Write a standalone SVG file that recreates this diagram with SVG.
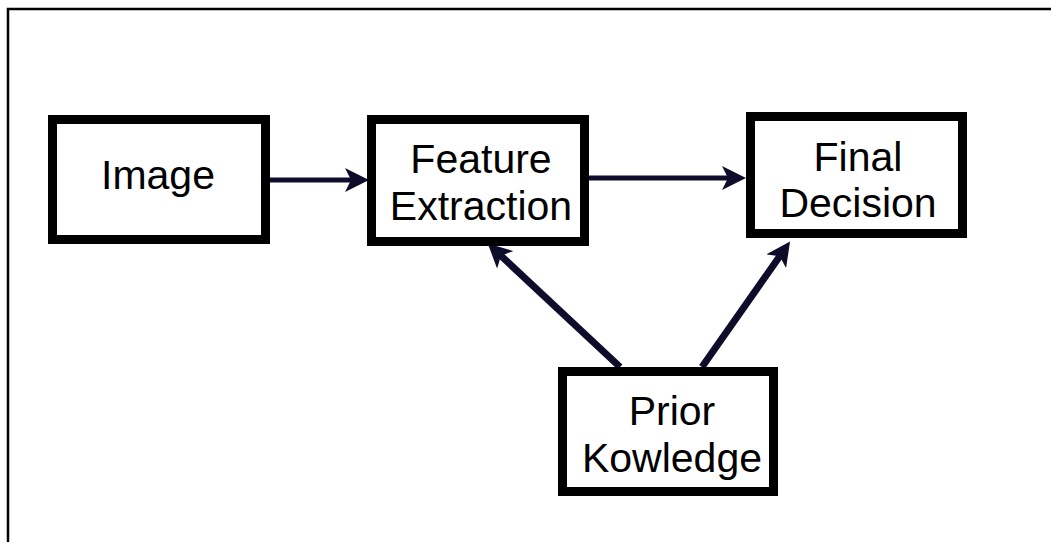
<svg xmlns="http://www.w3.org/2000/svg" width="1051" height="542" viewBox="0 0 1051 542">
<style>
.box{fill:#fff;stroke:#000;stroke-width:9}
.lbl{font-family:"Liberation Sans",Arial,sans-serif;font-size:41px;fill:#000;text-anchor:middle}
.con{stroke:#0d0d2b;fill:none}
</style>
<defs>
<marker id="ah" markerUnits="userSpaceOnUse" viewBox="0 0 24 24" markerWidth="24" markerHeight="24" refX="10" refY="12" orient="auto">
<path d="M0,0 L24,12 L0,24 L6,12 z" fill="#0d0d2b"/>
</marker>
</defs>
<rect width="1051" height="542" fill="#fff"/>
<path d="M8,542 V9 H1051" fill="none" stroke="#000" stroke-width="2.5"/>
<g id="connectors">
<line class="con" x1="270" y1="180" x2="355" y2="180" stroke-width="5" marker-end="url(#ah)"/>
<line class="con" x1="589" y1="178" x2="732" y2="178" stroke-width="5" marker-end="url(#ah)"/>
<line class="con" x1="620" y1="367" x2="498" y2="253" stroke-width="7" marker-end="url(#ah)"/>
<line class="con" x1="702" y1="367" x2="782" y2="253" stroke-width="7" marker-end="url(#ah)"/>
</g>
<g id="image">
<rect class="box" x="52.5" y="119.5" width="213" height="120"/>
<text class="lbl" x="158" y="189">Image</text>
</g>
<g id="feature-extraction">
<rect class="box" x="371.5" y="119.5" width="213" height="122"/>
<text class="lbl" x="481" y="173">Feature</text>
<text class="lbl" x="481" y="220">Extraction</text>
</g>
<g id="final-decision">
<rect class="box" x="750.5" y="116.5" width="212" height="117"/>
<text class="lbl" x="858" y="171">Final</text>
<text class="lbl" x="858" y="217">Decision</text>
</g>
<g id="prior-knowledge">
<rect class="box" x="562.5" y="371.5" width="211" height="120"/>
<text class="lbl" x="672" y="425">Prior</text>
<text class="lbl" x="672" y="472">Kowledge</text>
</g>
</svg>
